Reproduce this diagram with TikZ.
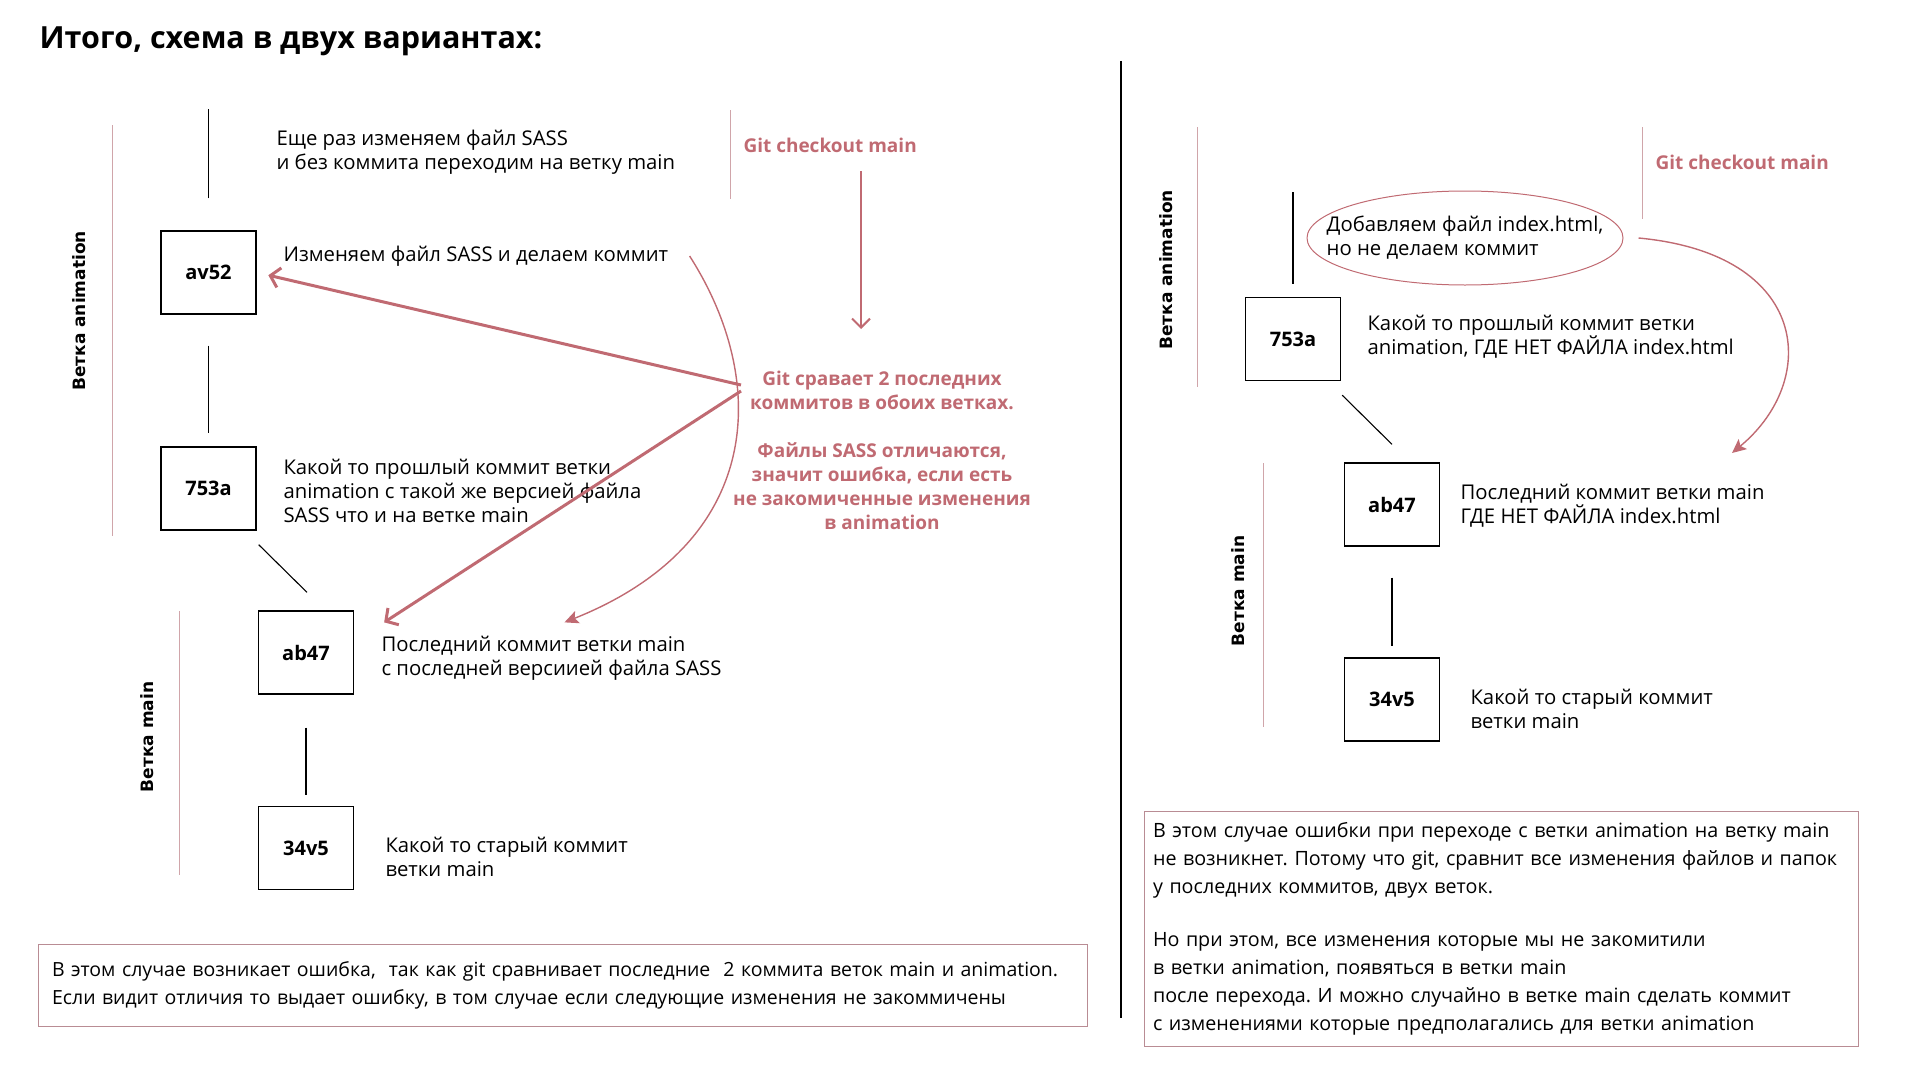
\documentclass[tikz,border=0pt]{standalone}
\usepackage{fontspec}
\setmainfont{Open Sans}
\newfontfamily\branchfont{DejaVu Sans}
\usetikzlibrary{arrows.meta,shapes.geometric}
\definecolor{gitpink}{RGB}{192,106,114}
\definecolor{branchpink}{RGB}{208,165,170}
\definecolor{notepink}{RGB}{185,140,148}
\frenchspacing
\tikzset{
  commit/.style={draw=black, line width=1.3pt, minimum width=95pt, minimum height=83pt, font=\fontsize{20}{24}\selectfont\bfseries},
  txt/.style={anchor=west, align=left, font=\fontsize{20.3}{24}\selectfont},
  pinktxt/.style={text=gitpink, font=\fontsize{19}{24}\selectfont\bfseries},
  branch/.style={rotate=90, font=\fontsize{17}{20}\selectfont\branchfont\bfseries},
  bracket/.style={draw=branchpink, line width=1pt},
  link/.style={draw=black, line width=1.1pt},
  bigarrow/.style={draw=gitpink, line width=3pt, -{Straight Barb[length=9pt,width=20pt]}},
  downarrow/.style={draw=gitpink, line width=2pt, -{Straight Barb[length=9pt,width=18pt]}},
  bendarrow/.style={draw=gitpink, line width=1.4pt, -{Stealth[length=14pt,width=13pt,inset=3pt]}},
  note/.style={draw=notepink, line width=1pt, align=left, font=\fontsize{19.7}{28}\selectfont},
}
\begin{document}
\begin{tikzpicture}[x=1pt,y=-1pt]
\useasboundingbox (0,0) rectangle (1910,1073);
\node[anchor=west, font=\fontsize{30.5}{36}\selectfont\bfseries] (title) at (36,41) {Итого, схема в двух вариантах:};

% first case
\node[commit](av52) at (208.5,272.5) {av52};
\node[commit](753a) at (208.5,488.5) {753a};
\node[commit](ab47) at (306,652.5) {ab47};
\node[commit](34v5) at (306,848) {34v5};
\node[txt](t1) at (273,152) {Еще раз изменяем файл SASS\\и без коммита переходим на ветку main};
\node[txt](t2) at (280,256) {Изменяем файл SASS и делаем коммит};
\node[txt](t3) at (280,491) {Какой то прошлый коммит ветки\\animation с такой же версией файла\\SASS что и на ветке main};
\node[txt](t4) at (378,658) {Последний коммит ветки main\\с последней версиией файла SASS};
\node[txt](t5) at (382,857) {Какой то старый коммит\\ветки main};
\draw[link] ([yshift=32pt]av52.north) -- ++(0,-89);
\path[link] (av52) edge[shorten <=31pt, shorten >=13pt] (753a);
\path[link] ([shift={(2pt,-14pt)}]753a.south east) edge ([shift={(1pt,18pt)}]ab47.north);
\path[link] (ab47) edge[shorten <=33pt, shorten >=11pt] (34v5);
\draw[bracket] (112,125) -- (112,536);
\draw[bracket] (179,611) -- (179,875);
\node[branch](animL) at (79,311) {Ветка animation};
\node[branch](mainL) at (147,737) {Ветка main};
\draw[bracket] (730,110) -- (730,199);
\node[pinktxt, anchor=west](gitco) at (740,145) {Git checkout main};
\node[pinktxt, align=center](gitcmp) at (882,450) {Git сравает 2 последних\\коммитов в обоих ветках.\\[24pt]Файлы SASS отличаются,\\значит ошибка, если есть\\не закомиченные изменения\\в animation};
\coordinate (dtop) at (861,171);
\coordinate (dbot) at (861,329);
\coordinate (cmpA) at (741,385);
\coordinate (cmpB) at (741,391);
\draw[downarrow] (dtop) -- (dbot);
\draw[bigarrow, shorten >=12pt] (cmpA) -- (av52.east);
\draw[bigarrow] (cmpB) -- ([shift={(30pt,-12pt)}]ab47.north east);
\draw[bendarrow] ([xshift=18pt]t2.east) .. controls +(80,125) and +(200,-80) .. ([shift={(13pt,10pt)}]t4.north);
\node[note, font=\fontsize{19.5}{28}\selectfont, minimum width=1049pt, minimum height=82pt, text width=1021pt, inner xsep=14pt](noteL) at (562.5,985) {В этом случае возникает ошибка,\ \ так как git сравнивает последние\ \ 2 коммита веток main и animation.\\Если видит отличия то выдает ошибку, в том случае если следующие изменения не закоммичены};

\draw[line width=1.2pt] (1121,61) -- (1121,1018);

% second case
\node[commit](r753a) at (1293,339) {753a};
\node[commit](rab47) at (1392,504.5) {ab47};
\node[commit](r34v5) at (1392,699.5) {34v5};
\node[txt, ellipse, anchor=center, draw=gitpink, line width=1pt, inner xsep=-27pt, inner ysep=9pt, minimum width=316pt, minimum height=94pt](idx) at (1465,238) {Добавляем файл index.html,\\но не делаем коммит};
\node[txt](rt3) at (1364,337) {Какой то прошлый коммит ветки\\animation, ГДЕ НЕТ ФАЙЛА index.html};
\node[txt](rt4) at (1457,505.5) {Последний коммит ветки main\\ГДЕ НЕТ ФАЙЛА index.html};
\node[txt](rt5) at (1467,708.5) {Какой то старый коммит\\ветки main};
\draw[link] ([yshift=13pt]r753a.north) -- ++(0,-92);
\path[link] ([shift={(1pt,-14pt)}]r753a.south east) edge ([yshift=18pt]rab47.north);
\path[link] (rab47) edge[shorten <=31pt, shorten >=11pt] (r34v5);
\draw[bracket] (1197,127) -- (1197,387);
\draw[bracket] (1263,463) -- (1263,727);
\node[branch](animR) at (1166,270) {Ветка animation};
\node[branch](mainR) at (1238,591) {Ветка main};
\draw[bracket] (1642,127) -- (1642,219);
\node[pinktxt, anchor=west](rgitco) at (1652,162) {Git checkout main};
\coordinate (rend) at (1732,453);
\draw[bendarrow] ([xshift=15pt]idx.east) .. controls +(172,16) and +(88,-73) .. (rend);
\node[note, minimum width=714pt, minimum height=235pt, text width=696pt, inner xsep=9pt](noteR) at (1501,928.5) {В этом случае ошибки при переходе с ветки animation на ветку main\\не возникнет. Потому что git, сравнит все изменения файлов и папок\\у последних коммитов, двух веток.\\[25pt]Но при этом, все изменения которые мы не закомитили\\в ветки animation, появяться в ветки main\\после перехода. И можно случайно в ветке main сделать коммит\\с изменениями которые предполагались для ветки animation};
\end{tikzpicture}
\end{document}
